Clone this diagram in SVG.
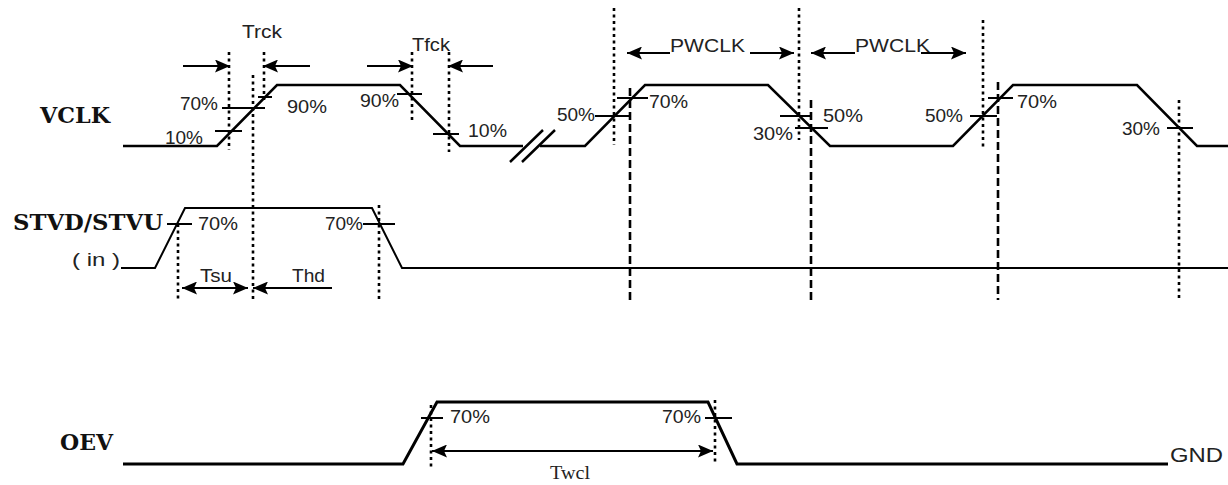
<svg xmlns="http://www.w3.org/2000/svg" width="1228" height="485" viewBox="0 0 1228 485">
<style>
.w{fill:none;stroke:#000;stroke-width:2.5;stroke-linejoin:miter}
.tk{fill:none;stroke:#000;stroke-width:2}
.dot{fill:none;stroke:#000;stroke-width:2.6;stroke-dasharray:3 3.5}
.dash{fill:none;stroke:#000;stroke-width:2.6;stroke-dasharray:8 4}
.a{fill:none;stroke:#000;stroke-width:2;marker-end:url(#ah)}
.a2{fill:none;stroke:#000;stroke-width:2;marker-end:url(#ah);marker-start:url(#ah)}
.p{font-family:"Liberation Sans",Arial,sans-serif;font-size:17.5px;fill:#222}
.sig{font-family:"DejaVu Serif","Liberation Serif",serif;font-weight:bold;font-size:22px;fill:#111}
.sf{font-family:"Liberation Serif","Times New Roman",serif;font-size:19px;fill:#222}
</style>
<defs>
<marker id="ah" markerUnits="userSpaceOnUse" markerWidth="15" markerHeight="13" refX="15" refY="6.5" orient="auto-start-reverse">
<path d="M0,0 L15,6.5 L0,13 L3,6.5 Z" fill="#000"/>
</marker>
</defs>
<rect width="1228" height="485" fill="#fff"/>

<g id="guides">
<path class="dot" d="M229,52 V150 M253,75 V300 M264,52 V100 M412,52 V122 M449,52 V152 M614,8 V145 M799,8 V140 M983,20 V147 M1179,100 V300 M178,224 V302 M379,205 V300 M431,405 V470 M715,400 V465"/>
<path class="dash" d="M630,88 V300 M811,100 V300 M998,82 V300"/>
</g>

<g id="vclk">
<text class="sig" x="40" y="123" textLength="70" lengthAdjust="spacingAndGlyphs">VCLK</text>
<path class="w" d="M123,146 L217,146 L277,85 L400,85 L460,146 L523,146 M540,146 L585,146 L645,85 L768,85 L830,146 L953,146 L1013,85 L1137,85 L1197,146 L1228,146"/>
<path class="w" d="M510,162 L543,130 M522,162 L555,130"/>
<path class="tk" d="M215,131 H242 M222,108 H265 M258,97 H272 M397,94 H422 M433,134 H459 M595,116 H630 M617,98 H648 M780,116 H810 M795,128 H828 M970,116 H997 M988,98 H1013 M1167,128 H1193"/>
<text class="p" x="165" y="144" textLength="38" lengthAdjust="spacingAndGlyphs">10%</text>
<text class="p" x="180" y="110" textLength="38" lengthAdjust="spacingAndGlyphs">70%</text>
<text class="p" x="287" y="113" textLength="40" lengthAdjust="spacingAndGlyphs">90%</text>
<text class="p" x="360" y="107" textLength="39" lengthAdjust="spacingAndGlyphs">90%</text>
<text class="p" x="468" y="137" textLength="39" lengthAdjust="spacingAndGlyphs">10%</text>
<text class="p" x="557" y="121" textLength="38" lengthAdjust="spacingAndGlyphs">50%</text>
<text class="p" x="649" y="108" textLength="39" lengthAdjust="spacingAndGlyphs">70%</text>
<text class="p" x="823" y="122" textLength="40" lengthAdjust="spacingAndGlyphs">50%</text>
<text class="p" x="753" y="140" textLength="40" lengthAdjust="spacingAndGlyphs">30%</text>
<text class="p" x="925" y="122" textLength="38" lengthAdjust="spacingAndGlyphs">50%</text>
<text class="p" x="1017" y="108" textLength="40" lengthAdjust="spacingAndGlyphs">70%</text>
<text class="p" x="1122" y="135" textLength="38" lengthAdjust="spacingAndGlyphs">30%</text>
</g>

<g id="stvd">
<text class="sig" x="13" y="230" textLength="150" lengthAdjust="spacingAndGlyphs">STVD/STVU</text>
<text class="p" x="72" y="266" textLength="48" lengthAdjust="spacingAndGlyphs">( in )</text>
<path class="w" style="stroke-width:2" d="M121,268 L155,268 L185,208 L372,208 L402,268 L1228,268"/>
<path class="tk" d="M167,224 H192 M363,224 H395"/>
<text class="p" x="198" y="230" textLength="40" lengthAdjust="spacingAndGlyphs">70%</text>
<text class="p" x="325" y="230" textLength="38" lengthAdjust="spacingAndGlyphs">70%</text>
</g>

<g id="oev">
<text class="sig" x="60" y="450" textLength="53" lengthAdjust="spacingAndGlyphs">OEV</text>
<path class="w" style="stroke-width:3" d="M123,464 L403,464 L437,402 L708,402 L737,464 L1168,464"/>
<path class="tk" d="M421,418 H443 M705,418 H732"/>
<text class="p" x="450" y="423" textLength="40" lengthAdjust="spacingAndGlyphs">70%</text>
<text class="p" x="662" y="423" textLength="39" lengthAdjust="spacingAndGlyphs">70%</text>
<text class="p" x="1170" y="462" textLength="53" lengthAdjust="spacingAndGlyphs" style="font-size:21px">GND</text>
</g>

<g id="connectors">
<path class="a" d="M183,66 H230"/>
<path class="a" d="M310,66 H263"/>
<text class="p" x="242" y="38" textLength="40" lengthAdjust="spacingAndGlyphs">Trck</text>
<path class="a" d="M367,66 H413"/>
<path class="a" d="M493,66 H448"/>
<text class="p" x="412" y="51" textLength="38" lengthAdjust="spacingAndGlyphs">Tfck</text>
<path class="a" d="M670,53 H627"/>
<path class="a" d="M750,53 H794"/>
<text class="p" x="670" y="52" textLength="75" lengthAdjust="spacingAndGlyphs">PWCLK</text>
<path class="a" d="M855,53 H811"/>
<path class="a" d="M921,53 H966"/>
<text class="p" x="855" y="52" textLength="75" lengthAdjust="spacingAndGlyphs">PWCLK</text>
<path class="a2" d="M182,288 H248"/>
<text class="p" x="200" y="282" textLength="32" lengthAdjust="spacingAndGlyphs">Tsu</text>
<path class="a" d="M332,288 H253"/>
<text class="p" x="292" y="282" textLength="33" lengthAdjust="spacingAndGlyphs">Thd</text>
<path class="a2" d="M432,451 H713"/>
<text class="sf" x="550" y="479" textLength="40" lengthAdjust="spacingAndGlyphs">Twcl</text>
</g>
</svg>
